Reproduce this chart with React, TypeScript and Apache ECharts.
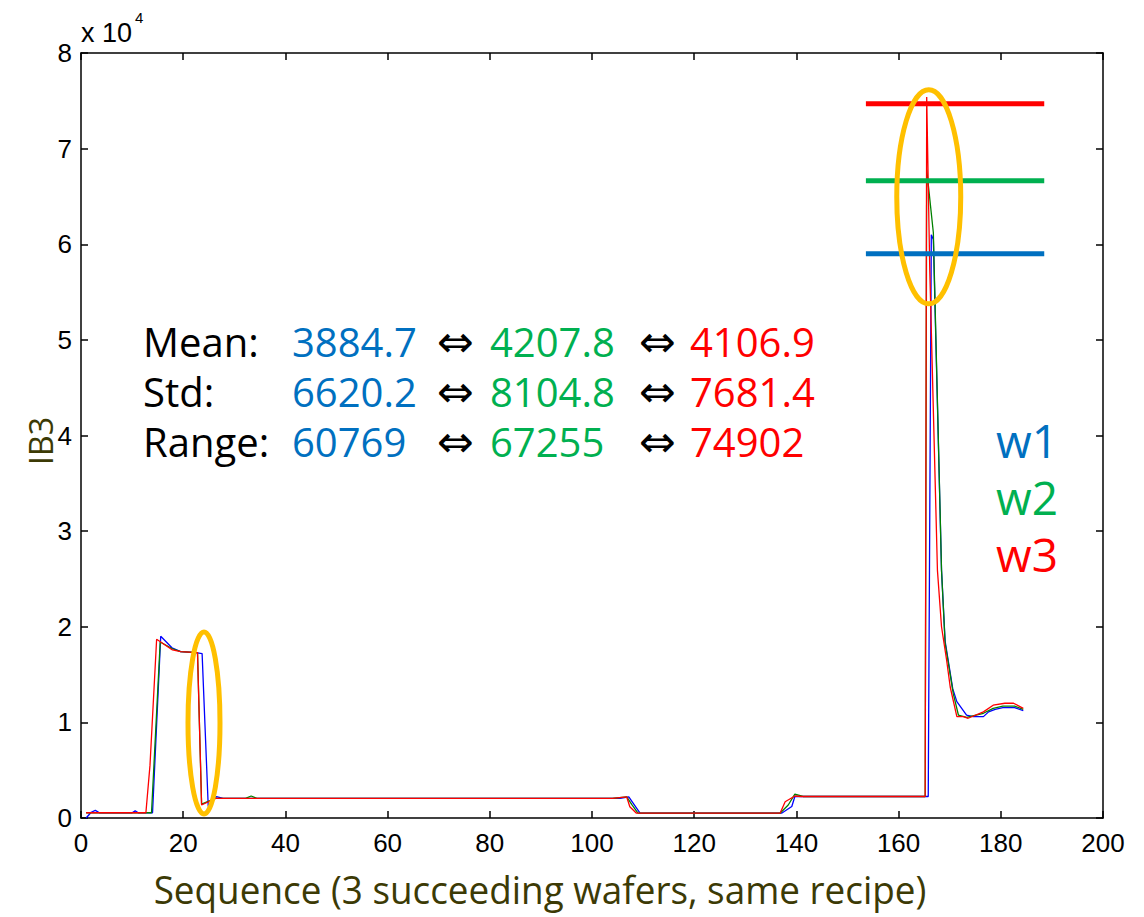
import React, { useEffect, useRef } from "react";
import * as echarts from "echarts";

// ---- data (sequence positions and IB3 values at break points) ----
const w1Seq = [1, 2, 2.8, 3.6, 10, 10.6, 11.2, 14.0, 15.6, 17.8, 19.5, 22.5, 23.7, 24.9, 26.5, 27.8, 105.5, 107.2, 109.4, 137.1, 139.1, 139.7, 165.8, 166.4, 166.8, 168.4, 169.1, 170.6, 171.4, 173.3, 174.6, 176.6, 177.6, 178.9, 180.4, 182.7, 184.4];
const w1Val = [0, 600, 800, 550, 550, 750, 550, 550, 19000, 17800, 17400, 17300, 17200, 1200, 2230, 2050, 2050, 2200, 500, 500, 1200, 2250, 2250, 61000, 60500, 25900, 18500, 13500, 12170, 10770, 10600, 10600, 11100, 11370, 11540, 11540, 11230];

const w2Seq = [1, 13.8, 15.5, 17.9, 19.5, 22.8, 23.6, 26.3, 32.2, 33.3, 34.4, 104, 106.8, 107.8, 109, 136.8, 138.4, 139.7, 141.3, 165.2, 165.5, 166.8, 168.4, 169.1, 170.7, 171.7, 173.3, 176.6, 178.5, 180.4, 182.7, 184.4];
const w2Val = [550, 550, 18400, 17700, 17400, 17300, 1450, 2050, 2050, 2300, 2050, 2050, 2200, 1400, 500, 500, 1360, 2500, 2250, 2250, 67800, 61200, 25900, 18300, 13000, 10770, 10530, 10950, 11470, 11700, 11700, 11370];

const w3Seq = [1, 12.7, 13.5, 14.8, 17.9, 19.5, 22.8, 23.6, 26.3, 104, 106.8, 107.4, 108.7, 136.8, 137.8, 139.7, 141, 165.2, 165.5, 166.1, 167.6, 168.4, 169.4, 170.1, 171.4, 172.7, 173.6, 176.6, 178.5, 180.8, 182.5, 184.4];
const w3Val = [550, 550, 5500, 18700, 17570, 17400, 17300, 1360, 2050, 2050, 2200, 1180, 500, 500, 1700, 2300, 2250, 2250, 75400, 57300, 25900, 20000, 16500, 13700, 10600, 10600, 10430, 11100, 11800, 12000, 12000, 11470];

// horizontal marker lines (level, start seq, end seq)
const maxLevels = [59000, 66630, 74690];
const maxLineSpan = [153.6, 188.5];

const statLabels = ["Mean:", "Std:", "Range:"];
const statW1 = ["3884.7", "6620.2", "60769"];
const statW2 = ["4207.8", "8104.8", "67255"];
const statW3 = ["4106.9", "7681.4", "74902"];
const legendNames = ["w1", "w2", "w3"];

const lineColors = ["#0000FF", "#008000", "#FF0000"];
const textColors = ["#0070C0", "#00B050", "#FF0000"];
const olive = "#3C3A05";
const numFont = "'Liberation Sans', Arial, sans-serif";
const txtFont = "'Open Sans', 'Noto Sans', sans-serif";

export default function App() {
  const ref = useRef<HTMLDivElement>(null);
  useEffect(() => {
    if (!ref.current) return;
    const chart = echarts.init(ref.current, null, { renderer: "svg" });
    const mk = (s: number[], v: number[]) => s.map((x, i) => [x, v[i]]);
    const seriesData = [mk(w1Seq, w1Val), mk(w2Seq, w2Val), mk(w3Seq, w3Val)];
    const axisCommon = {
      type: "value" as const,
      axisLine: { show: true, onZero: false, lineStyle: { color: "#000", width: 1.5 } },
      axisTick: { show: true, inside: true, length: 7, lineStyle: { color: "#000", width: 1.5 } },
      splitLine: { show: false },
    };
    chart.setOption({
      animation: false,
      backgroundColor: "#fff",
      grid: { left: 81, right: 41, top: 53, bottom: 99 },
      xAxis: [
        {
          ...axisCommon,
          min: 0,
          max: 200,
          interval: 20,
          position: "bottom",
          axisLabel: { fontFamily: numFont, fontSize: 26, color: "#000", margin: 12 },
        },
        { ...axisCommon, min: 0, max: 200, interval: 20, position: "top", axisLabel: { show: false } },
      ],
      yAxis: [
        {
          ...axisCommon,
          min: 0,
          max: 80000,
          interval: 10000,
          position: "left",
          axisLabel: {
            fontFamily: numFont,
            fontSize: 26,
            color: "#000",
            margin: 9,
            formatter: (v: number) => String(v / 10000),
          },
        },
        { ...axisCommon, min: 0, max: 80000, interval: 10000, position: "right", axisLabel: { show: false } },
      ],
      series: [
        ...seriesData.map((d, i) => ({
          type: "line",
          name: legendNames[i],
          data: d,
          showSymbol: false,
          symbol: "none",
          lineStyle: { color: lineColors[i], width: 1.3 },
          z: 3 + i,
        })),
        ...maxLevels.map((lv, i) => ({
          type: "line",
          data: [
            [maxLineSpan[0], lv],
            [maxLineSpan[1], lv],
          ],
          showSymbol: false,
          symbol: "none",
          silent: true,
          lineStyle: { color: textColors[i], width: 5 },
          z: 6,
        })),
      ],
    });

    const p = (x: number, y: number) => chart.convertToPixel({ gridIndex: 0 }, [x, y]) as number[];
    const ell = (cx: number, cy: number, rxU: number, ryU: number) => {
      const c = p(cx, cy);
      const e = p(cx + rxU, cy + ryU);
      return {
        type: "ellipse",
        shape: { cx: c[0], cy: c[1], rx: Math.abs(e[0] - c[0]), ry: Math.abs(e[1] - c[1]) },
        style: { fill: "none", stroke: "#FFC000", lineWidth: 5 },
        z: 10,
      };
    };
    const graphics: any[] = [ell(24.07, 9940, 3.13, 9520), ell(165.9, 64960, 6.26, 11190)];

    // stats block: one multi-line text per column
    const arrows = statLabels.map(() => "\u21D4");
    const columns: [string[], string, number, boolean][] = [
      [statLabels, "#000", 143, false],
      [statW1, textColors[0], 292, false],
      [arrows, "#000", 437, true],
      [statW2, textColors[1], 490, false],
      [arrows, "#000", 639, true],
      [statW3, textColors[2], 690, false],
    ];
    columns.forEach(([lines, c, x, arrow]) => {
      graphics.push({
        type: "text",
        x,
        y: 391,
        z: 20,
        style: {
          text: lines.join("\n"),
          fill: c,
          fontFamily: arrow ? "'DejaVu Sans', sans-serif" : txtFont,
          fontSize: arrow ? 44 : 40,
          lineHeight: 50,
          verticalAlign: "middle",
          align: "left",
        },
      });
    });
    graphics.push({
      type: "text",
      x: 996,
      y: 497,
      z: 20,
      style: {
        text: legendNames.map((n, i) => `{c${i}|${n}}`).join("\n"),
        fontFamily: txtFont,
        fontSize: 46,
        lineHeight: 57,
        verticalAlign: "middle",
        rich: {
          c0: { fill: textColors[0], fontFamily: txtFont, fontSize: 46, lineHeight: 57 },
          c1: { fill: textColors[1], fontFamily: txtFont, fontSize: 46, lineHeight: 57 },
          c2: { fill: textColors[2], fontFamily: txtFont, fontSize: 46, lineHeight: 57 },
        },
      },
    });
    graphics.push(
      {
        type: "text",
        x: 81,
        y: 33,
        style: { text: "x 10", fill: "#000", fontFamily: numFont, fontSize: 27, verticalAlign: "middle" },
      },
      {
        type: "text",
        x: 135,
        y: 17,
        style: { text: "4", fill: "#000", fontFamily: numFont, fontSize: 15, verticalAlign: "middle" },
      },
      {
        type: "text",
        x: 40,
        y: 441,
        rotation: Math.PI / 2,
        style: { text: "IB3", fill: olive, fontFamily: txtFont, fontSize: 32, fontWeight: 500, align: "center", verticalAlign: "middle" },
      },
      {
        type: "text",
        x: 540,
        y: 889,
        scaleX: 0.97,
        style: {
          text: "Sequence (3 succeeding wafers, same recipe)",
          fill: olive,
          fontFamily: txtFont,
          fontSize: 38,
          align: "center",
          verticalAlign: "middle",
        },
      }
    );
    chart.setOption({ graphic: graphics });
    return () => chart.dispose();
  }, []);
  return <div ref={ref} style={{ position: "fixed", left: 0, top: 0, width: 1144, height: 917 }} />;
}
